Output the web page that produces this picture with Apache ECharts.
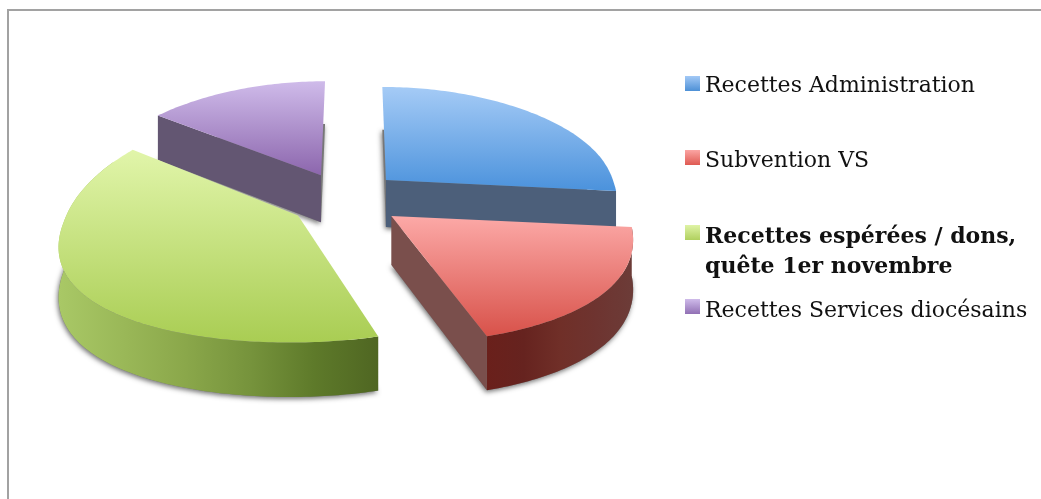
<!DOCTYPE html>
<html>
<head>
<meta charset="utf-8">
<style>html,body{margin:0;padding:0;background:#fff}#c{width:1041px;height:499px}</style>
<script src="https://cdn.jsdelivr.net/npm/echarts@6/dist/echarts.min.js"></script>
</head>
<body>
<div id="c"></div>
<script>
const categories = ['Recettes Administration', 'Subvention VS', 'Recettes espérées / dons, quête 1er novembre', 'Recettes Services diocésains'];
const values = [26, 18.6, 40.8, 14.6];
const legendLabels = ['{g| }\n{t|Recettes Administration}', '{g| }\n{t|Subvention VS}', '{g| }\n{b|Recettes espérées / dons,}\n{b|quête 1er novembre}', '{g| }\n{t|Recettes Services diocésains}'];
const legendTops = [65.5, 138.5, 182.5, 286.5];
const legendSpacers = [6, 8, 40, 10];
const drawOrder = [3, 4, 5, 2];            // z of each slice (back to front)
const topColors = [['#a5cbf6', '#4b92dc'], ['#fca9a7', '#d8524a'], ['#e1f5aa', '#a9cd53'], ['#cfbbea', '#8c66ad']];
const iconColors = [['#a3c9f6', '#4d90d6'], ['#fba5a3', '#df5a52'], ['#dff3a6', '#b0d05e'], ['#cfbbea', '#9170b4']];
const cutColors = ['#4c5f7a', '#7a4f4c', '#5a7028', '#635672'];
const wallStops = [
  ['#4c5f7a', '#4c5f7a'],
  ['#6a201b', '#66231f', '#702f28', '#6e3430', '#6c3c38'],
  ['#a9c866', '#9ab858', '#8aa74a', '#76933c', '#5e7a2a', '#4f6622'],
  ['#635672', '#635672']
];

// Projection of the tilted pie
const RADII = [237, 237, 232, 237], RY_BACKS = [93, 93, 110, 94], SAGS = [3, 3, 10, 3];
const RY_FRONT = 127, BACK_POWER = 0.85;
const VX = 355, Y0 = 215, PERSP = 0.0012;
const CX = 345, CY = 195, EXP_X = 58, EXP_BACK = 22, EXP_FRONT = 35;
const rad = d => d * Math.PI / 180;

const total = values.reduce((a, b) => a + b, 0);
let acc = 0;
const spans = values.map(v => { const s = acc; acc += v / total * 360; return [s, acc]; });

function project(wx, wy) { return [VX + (wx - VX) * (1 + PERSP * (wy - Y0)), wy]; }
function depth(y) { return 48 + (y - 200) * 0.045; }
function grad(x2, y2, cols) {
  return { type: 'linear', x: 0, y: 0, x2, y2,
    colorStops: cols.map((c, i) => ({ offset: i / (cols.length - 1), color: c })) };
}
function apexOf(i) {
  const m = rad((spans[i][0] + spans[i][1]) / 2), c = Math.cos(m);
  return [CX + EXP_X * Math.sin(m), CY - c * (c > 0 ? EXP_BACK : EXP_FRONT)];
}
function rim(i, deg) {
  const a = apexOf(i), t = rad(deg), c = Math.cos(t), s = Math.sin(t);
  const lift = c > 0 ? Math.pow(c, BACK_POWER) * RY_BACKS[i] : c * RY_FRONT;
  return project(a[0] + RADII[i] * s, a[1] - lift + SAGS[i] * s * s);
}
const down = p => [p[0], p[1] + depth(p[1])];

function renderSlice(i) {
  const [a0, a1] = spans[i];
  const ap = project(apexOf(i)[0], apexOf(i)[1]);
  const arc = [];
  for (let d = a0; d < a1; d += 1) arc.push(rim(i, d));
  arc.push(rim(i, a1));
  const outline = [ap].concat(arc);
  const children = [];
  // soft shadow cast by the underside
  children.push({ type: 'polygon', shape: { points: outline.map(down) },
    style: { fill: '#777', shadowColor: 'rgba(0,0,0,0.55)', shadowBlur: 5, shadowOffsetX: -1, shadowOffsetY: 2 } });
  // outer rim wall (front half only)
  const from = Math.max(a0, 90), to = Math.min(a1, 300);
  if (to - from > 10) {
    const t = [];
    for (let d = from; d < to; d += 1) t.push(rim(i, d));
    t.push(rim(i, to));
    children.push({ type: 'polygon', shape: { points: t.concat(t.map(down).reverse()) },
      style: { fill: grad(1, 0, wallStops[i]) } });
  }
  // flat cut face that looks towards the viewer
  const cutAngle = [a1, a1, null, a0][i];
  if (cutAngle !== null) {
    const r = rim(i, cutAngle);
    children.push({ type: 'polygon', shape: { points: [ap, r, down(r), down(ap)] },
      style: { fill: cutColors[i] } });
  }
  // top face
  children.push({ type: 'polygon', shape: { points: outline },
    style: { fill: grad(0, 1, topColors[i]) } });
  return { type: 'group', children };
}

const series = categories.map((name, i) => ({
  type: 'custom', name, coordinateSystem: 'none', z: drawOrder[i], silent: true,
  animation: false, data: [values[i]],
  itemStyle: { color: iconColors[i][1] },
  renderItem: () => renderSlice(i)
}));

const serif = '"DejaVu Serif", serif';
const legend = categories.map((name, i) => ({
  left: 685, top: legendTops[i], orient: 'vertical', selectedMode: false,
  itemWidth: 15, itemHeight: 15, padding: 0,
  formatter: () => legendLabels[i],
  textStyle: {
    fontFamily: serif, fontSize: 22, color: '#111', lineHeight: 30,
    rich: {
      t: { fontFamily: serif, fontSize: 22, color: '#111', lineHeight: 30 },
      b: { fontFamily: serif, fontSize: 22, fontWeight: 'bold', color: '#111', lineHeight: 30 },
      g: { fontSize: 1, lineHeight: legendSpacers[i] }
    }
  },
  data: [{ name, icon: 'rect', itemStyle: { color: grad(0, 1, iconColors[i]) } }]
}));

const chart = echarts.init(document.getElementById('c'), null, { renderer: 'canvas' });
chart.setOption({
  backgroundColor: '#fff',
  animation: false,
  legend,
  series,
  graphic: [{ type: 'polyline', silent: true, z: 0,
    shape: { points: [[8, 499], [8, 10], [1041, 10]] },
    style: { stroke: '#a2a2a2', lineWidth: 2, fill: null } }]
});
</script>
</body>
</html>
